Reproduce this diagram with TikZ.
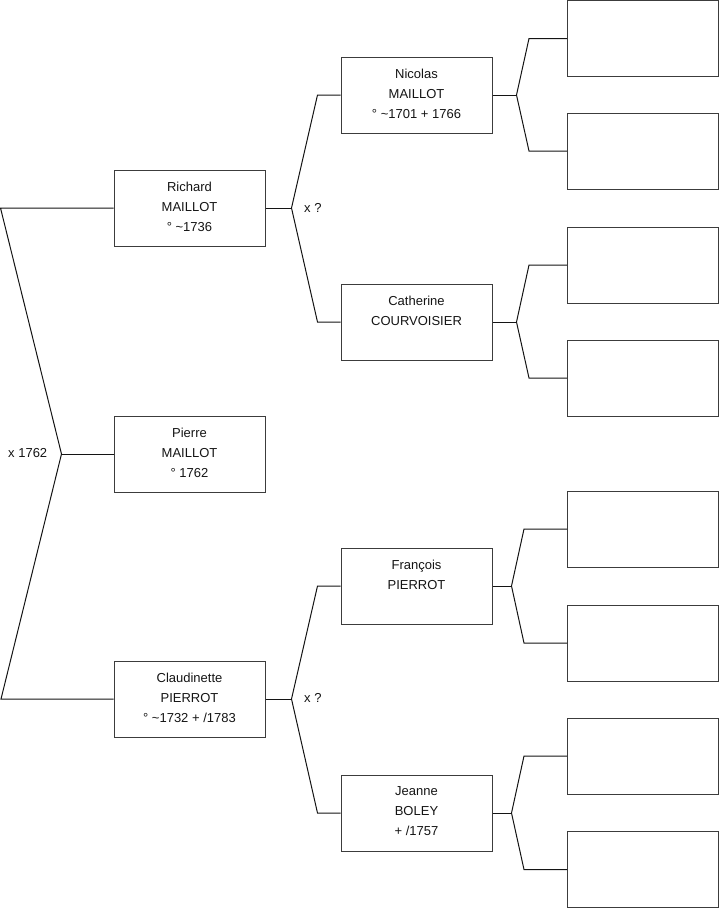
\documentclass[tikz,border=0pt]{standalone}
\usepackage{fontspec}
\setmainfont{Liberation Sans}
\usetikzlibrary{positioning}
\definecolor{ink}{RGB}{20,20,20}
\definecolor{frame}{RGB}{60,60,60}
\tikzset{
  card/.style={draw=frame,line width=1pt,minimum width=151pt,minimum height=76pt,inner sep=0pt},
  who/.style={anchor=north,inner sep=0pt,text=ink,align=center,font=\fontsize{13}{20}\selectfont},
  link/.style={draw=ink,line width=1pt},
  wed/.style={anchor=west,inner sep=0pt,text=ink,font=\fontsize{13}{15}\selectfont},
}

\begin{document}
\begin{tikzpicture}[x=1pt,y=-1pt]
  \useasboundingbox (0,0) rectangle (719,908);
  % people with known names
  \foreach \n/\x/\y/\t in {
      richard/189.5/208/{Richard\\MAILLOT\\° \textasciitilde1736},
      pierre/189.5/454/{Pierre\\MAILLOT\\° 1762},
      claud/189.5/699/{Claudinette\\PIERROT\\° \textasciitilde1732 + /1783},
      nicolas/416.5/95/{Nicolas\\MAILLOT\\° \textasciitilde1701 + 1766},
      catherine/416.5/322/{Catherine\\COURVOISIER},
      francois/416.5/586/{François\\PIERROT},
      jeanne/416.5/813/{Jeanne\\BOLEY\\+ /1757}}{
    \node[card] (\n) at (\x,\y) {};
    \node[who,below=12pt of \n.north] (\n txt) {\t};
  }
  % unknown ancestors
  \foreach \i/\y in {1/38.5,2/151,3/265,4/378,5/529,6/643,7/756,8/869.5}
    \node[card] (e\i) at (643,\y) {};

  % forks towards the parents
  \coordinate[left=52pt of pierre.west] (fpierre);
  \draw[link] (pierre.west) -- (fpierre);
  \draw[link] (richard.west) -- ++(-113,0) -- (fpierre) -- (claud.west -| 1,0) -- (claud.west);
  \foreach \c/\u/\l/\d/\g in {richard/nicolas/catherine/26/23,claud/francois/jeanne/26/23,
      nicolas/e1/e2/24/38,catherine/e3/e4/24/38,francois/e5/e6/19/43,jeanne/e7/e8/19/43}{
    \coordinate[right=\d pt of \c.east] (f\c);
    \draw[link] (\c.east) -- (f\c);
    \draw[link] (\u.west) -- ++(-\g,0) -- (f\c) -- ([xshift=-\g pt]\l.west) -- (\l.west);
  }

  \node[wed] (w0) at (8,453) {x 1762};
  \node[wed] (w1) at (304,208) {x ?};
  \node[wed] (w2) at (304,698) {x ?};
\end{tikzpicture}
\end{document}
